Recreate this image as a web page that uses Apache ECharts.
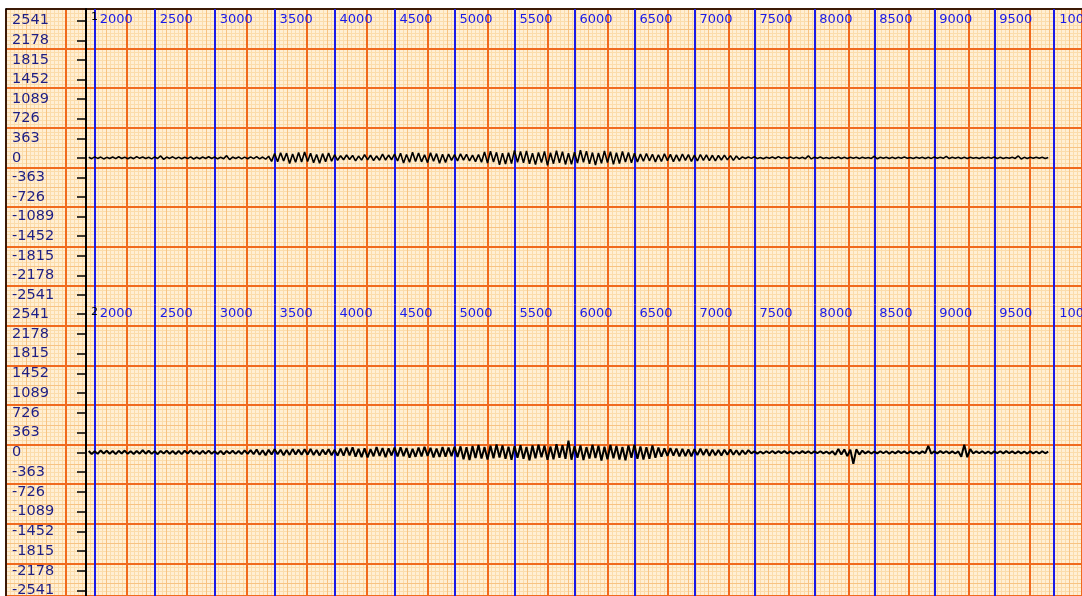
<!DOCTYPE html>
<html>
<head>
<meta charset="utf-8">
<script src="https://cdn.jsdelivr.net/npm/echarts@6/dist/echarts.min.js"></script>
<style>html,body{margin:0;padding:0;background:#fff;}#c{width:1082px;height:596px;}</style>
</head>
<body>
<div id="c"></div>
<script>
// ---- data ----
const xTicks = [2000,2500,3000,3500,4000,4500,5000,5500,6000,6500,7000,7500,8000,8500,9000,9500,10000];
const yTicks = [2541,2178,1815,1452,1089,726,363,0,-363,-726,-1089,-1452,-1815,-2178,-2541];
const channelNames = ['1','2'];
const sampleStart = 1950;
const sampleStep = 25;
const ch1 = [
12,-15,18,-10,14,-20,9,-12,16,-14,
20,-11,13,-18,10,-16,22,-9,15,-13,
11,-19,17,-12,35,-28,14,-10,19,-15,
13,-17,10,-14,18,-21,12,-16,15,-11,
20,-13,16,-18,11,-15,40,-33,14,-12,
17,-20,13,-16,19,-14,22,-18,15,-25,
30,
-65,80,-72,95,-60,88,-105,70,-82,98,
-75,110,-68,85,-92,64,-100,78,-70,90,
-62,58,-45,
40,-35,52,-30,45,-55,33,-42,60,-38,
48,-50,35,-44,68,-40,52,-36,
70,-58,85,-95,62,-80,104,-66,90,-74,
58,-88,96,-62,78,-100,66,-84,72,
-48,60,-55,75,-42,66,-58,50,-70,62,
-80,110,-95,125,-78,102,-130,88,-115,96,
-105,138,-84,118,-92,130,-110,85,-125,100,
-88,120,-140,95,-108,132,-90,115,-122,86,
-118,105,-96,140,-82,124,-112,98,-135,90,
-100,128,-86,112,-120,94,-104,118,-78,100,
-92,84,-75,
70,-62,80,-55,66,-74,58,-68,76,-52,
64,-70,55,-60,72,-48,60,-66,50,-58,
62,-45,54,-52,48,-56,44,-40,50,-38,
42,-46,35,-30,
18,-12,15,-10,20,-14,8,-16,12,-9,
14,-11,22,-8,10,-13,16,-10,9,-12,
11,-15,38,-20,12,-9,14,-10,8,-13,
10,-8,15,-12,9,-11,13,-7,10,-14,
12,-9,8,-10,30,-18,11,-8,13,-10,
9,-12,10,-7,14,-9,8,-11,12,-8,
10,-13,9,-10,15,-8,11,-9,28,-14,
10,-8,12,-11,9,-10,13,-7,8,-12,
11,-9,10,-8,14,-10,9,-12,8,-9,
12,-10,35,-22,9,-11,10,-8,13,-9,
10,-12,8
];
const ch2 = [
25,-30,22,-28,35,-20,30,-26,24,-32,
28,-22,33,-27,20,-30,26,-24,38,-25,
30,-28,22,-34,27,-21,31,-26,24,-29,
26,-33,29,-22,35,-27,23,-30,28,-24,
32,-26,21,-29,27,-35,25,-23,30,-28,
24,-31,36,-27,
40,-35,52,-44,38,-55,46,-40,58,-36,
48,-52,42,-47,60,-38,50,-45,55,-42,
62,-48,44,-56,50,-40,58,-52,46,-60,
70,-62,85,-55,92,-78,64,-88,75,-95,
60,-72,98,-66,80,-90,72,-58,86,-76,
94,-68,78,-100,66,-82,90,-74,102,-64,
84,-92,70,-86,96,-78,88,-70,100,-84,
110,-125,95,-140,118,-102,135,-115,98,-130,
122,-108,145,-96,128,-120,105,-138,115,-100,
132,-118,98,-145,125,-110,140,-92,120,-135,
108,-126,150,-100,130,-118,215,-135,112,-98,
125,-140,96,-115,138,-105,120,-150,102,-128,
135,-110,118,-132,100,-145,128,-98,140,-120,
110,-130,95,-118,125,-100,88,
-80,72,-65,78,-58,70,-75,62,-68,55,
-72,60,-52,66,-48,58,-62,50,-55,45,
-58,48,-42,52,-45,40,-48,38,-35,42,
-20,18,-24,15,-22,20,-16,24,-18,21,
-15,22,-19,17,-25,16,-20,23,-14,19,
-22,18,-16,21,-19,15,-23,20,
-45,60,-38,52,-70,48,-210,55,-40,30,
-20,18,-22,15,-19,21,-17,20,-24,16,
-18,22,-15,19,-21,17,-20,16,-23,18,
-16,120,-25,19,-18,22,-15,20,-19,17,
-21,18,
-80,140,-90,60,
-22,19,-17,21,-20,16,-23,18,-15,20,
-19,22,-16,18,-21,17,-20,15,-22,19,
-18,16,-21,20,-17,15
];
const channels = [ch1, ch2];

// ---- chart ----
const FONT = 'DejaVu Sans';
const paperBg = '#FFEFD4';
const fineColor = '#FBDCAB';
const midColor = '#F7C383';
const majorColor = '#F06A1E';
const blueColor = '#1A1AE8';
const navy = '#1E1E84';

const panels = [
  {top: 9, height: 295.5, min: -2717, max: 2757.8, labelMargin: 11},
  {top: 304.5, height: 291.5, min: -2638.3, max: 2715.5, labelMargin: 9.5}
];
const xMin = 1927.5, xMax = 10231.5;

const grids = [{left: 6, top: 9, right: 0, bottom: 0, show: true, backgroundColor: paperBg, borderWidth: 0, z: 0, outerBoundsMode: 'none', containLabel: false}];
panels.forEach(p => grids.push({left: 86, right: 0, top: p.top, height: p.height, show: false, z: 1, outerBoundsMode: 'none', containLabel: false}));

function paperAxis(interval, color, width, z, isX, frame) {
  const a = {
    type: 'value', gridIndex: 0, min: 0, max: isX ? 1072.4 : 592.9, interval: interval,
    axisLine: frame ? {show: true, lineStyle: {color: '#000', width: 1.5}} : {show: false},
    axisTick: {show: false}, axisLabel: {show: false},
    splitLine: {show: true, lineStyle: {color: color, width: width}},
    z: z, silent: true
  };
  if (isX) a.position = 'top'; else { a.inverse = true; a.position = 'left'; }
  return a;
}
const xAxes = [
  paperAxis(4, fineColor, 1, 1, true, false),
  paperAxis(20, midColor, 1, 2, true, false),
  paperAxis(60, majorColor, 2, 3, true, true)
];
const yAxes = [
  paperAxis(4, fineColor, 1, 1, false, false),
  paperAxis(20, midColor, 1, 2, false, false),
  paperAxis(40, majorColor, 2, 3, false, true)
];
const plain = v => String(v);
panels.forEach((p, k) => {
  xAxes.push({
    type: 'value', gridIndex: k + 1, min: xMin, max: xMax, position: 'top',
    axisLine: {show: false},
    axisTick: {show: false, customValues: xTicks},
    axisLabel: {show: true, customValues: xTicks, inside: true, margin: p.labelMargin, formatter: plain,
      align: 'left', verticalAlign: 'middle', padding: [0, 0, 0, 5], hideOverlap: false,
      color: blueColor, fontFamily: FONT, fontSize: 13},
    splitLine: {show: true, lineStyle: {color: blueColor, width: 2}},
    z: 4
  });
  yAxes.push({
    type: 'value', gridIndex: k + 1, min: p.min, max: p.max, position: 'left',
    axisLine: {show: true, lineStyle: {color: '#000', width: 2}},
    axisTick: {show: true, customValues: yTicks, length: 9, lineStyle: {color: '#000', width: 1.5}},
    axisLabel: {show: true, customValues: yTicks, margin: 74, align: 'left', formatter: plain,
      color: navy, fontFamily: FONT, fontSize: 14.5},
    splitLine: {show: false},
    z: 4
  });
});

const series = channels.map((arr, k) => ({
  type: 'line', xAxisIndex: 3 + k, yAxisIndex: 3 + k,
  data: arr.map((v, i) => [sampleStart + i * sampleStep, v]),
  showSymbol: false, symbol: 'none', sampling: false,
  lineStyle: {color: '#000', width: k === 0 ? 1.6 : 2},
  z: 6, silent: true, animation: false
}));

const titles = channelNames.map((n, k) => ({
  text: n, left: 91, top: panels[k].top + (k === 0 ? 3 : 2), padding: 0,
  textStyle: {fontFamily: FONT, fontSize: 11, fontWeight: 'normal', color: '#000'}, z: 7
}));

const chart = echarts.init(document.getElementById('c'), null, {renderer: 'canvas'});
chart.setOption({
  animation: false,
  backgroundColor: '#ffffff',
  title: titles,
  grid: grids,
  xAxis: xAxes,
  yAxis: yAxes,
  series: series
});
</script>
</body>
</html>
